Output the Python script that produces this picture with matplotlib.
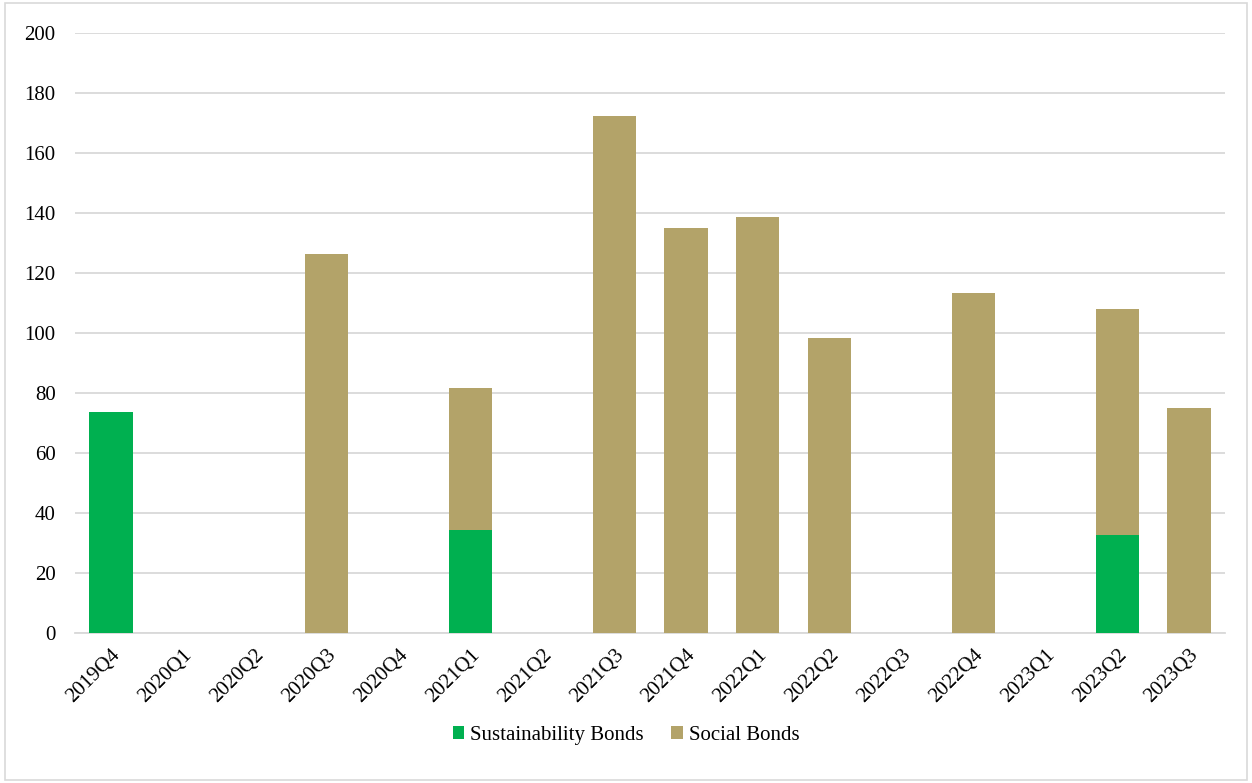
'''
Quarterly issuance of sustainability and social bonds
'''
import numpy as np
import matplotlib.pyplot as plt
from matplotlib.patches import Rectangle

quarters = ['2019Q4', '2020Q1', '2020Q2', '2020Q3', '2020Q4', '2021Q1', '2021Q2', '2021Q3',
            '2021Q4', '2022Q1', '2022Q2', '2022Q3', '2022Q4', '2023Q1', '2023Q2', '2023Q3']
sustainability = [73.7, 0, 0, 0, 0, 34.3, 0, 0, 0, 0, 0, 0, 0, 0, 32.7, 0]
social = [0, 0, 0, 126.3, 0, 47.4, 0, 172.3, 135.0, 138.7, 98.3, 0, 113.3, 0, 75.3, 75.0]

plt.rcParams['font.family'] = ['Liberation Serif', 'DejaVu Serif']

fig = plt.figure(figsize=(12.52, 7.83), dpi=100)
ax = fig.add_axes([0.06, 0.1916, 0.9184, 0.7663])

# light frame around the whole chart
fig.patches.append(Rectangle((0.004, 0.004), 0.992, 0.992, transform=fig.transFigure,
                             fill=False, edgecolor='#D9D9D9', linewidth=1.2))

x = np.arange(len(quarters))
ax.bar(x, sustainability, width=0.6, color='#00B050', label='Sustainability Bonds', zorder=3)
ax.bar(x, social, width=0.6, bottom=sustainability, color='#B3A369', label='Social Bonds', zorder=3)

ax.set_xlim(-0.5, len(quarters) - 0.5)
ax.set_ylim(0, 200)
ax.set_yticks(range(0, 201, 20))
ax.yaxis.grid(True, color='#D9D9D9', linewidth=1.3, zorder=0)
for side in ['top', 'right', 'left']:
    ax.spines[side].set_visible(False)
ax.spines['bottom'].set_color('#D9D9D9')
ax.spines['bottom'].set_linewidth(1.3)
ax.tick_params(axis='both', length=0, labelsize=15, colors='black')
ax.tick_params(axis='y', pad=14)
ax.tick_params(axis='x', pad=9)
ax.set_xticks(x)
ax.set_xticklabels(quarters, rotation=45, ha='right', rotation_mode='anchor')

fig.legend(loc='center', bbox_to_anchor=(0.5, 0.061), ncol=2, frameon=False,
           fontsize=15, handlelength=0.55, handleheight=0.55, handletextpad=0.3,
           columnspacing=1.3)

plt.savefig('out.png', dpi=100)
